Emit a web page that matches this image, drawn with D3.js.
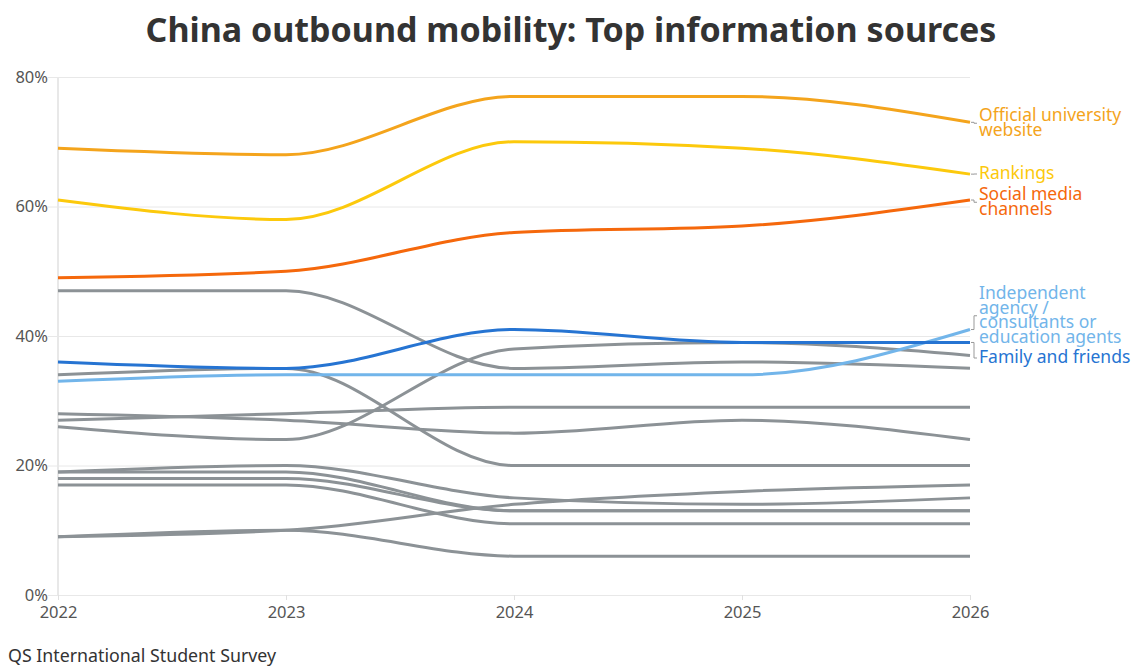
<!DOCTYPE html>
<html>
<head>
<meta charset="utf-8">
<script src="https://cdn.jsdelivr.net/npm/d3@7"></script>
<style>
  body { margin: 0; background: #fff; font-family: "Noto Sans", sans-serif; }
  svg text { font-family: "Noto Sans", sans-serif; }
</style>
</head>
<body>
<svg id="chart" width="1141" height="670"></svg>
<script>
// Survey years
const years = [2022, 2023, 2024, 2025, 2026];
const yTicks = [0, 20, 40, 60, 80];

// Highlighted sources (% of respondents)
const officialWebsite = [69, 68, 77, 77, 73];
const rankings = [61, 58, 70, 69, 65];
const socialMedia = [49, 50, 56, 57, 61];
const familyFriends = [36, 35, 41, 39, 39];
const independentAgency = [33, 34, 34, 34, 41];

// Other sources, drawn in grey
const otherSources = [
  [47, 47, 35, 36, 35],
  [26, 24, 38, 39, 37],
  [34, 35, 20, 20, 20],
  [27, 28, 29, 29, 29],
  [28, 27, 25, 27, 24],
  [19, 20, 15, 14, 15],
  [9, 10, 14, 16, 17],
  [19, 19, 13, 13, 13],
  [18, 18, 13, 13, 13],
  [17, 17, 11, 11, 11],
  [9, 10, 6, 6, 6]
];

const highlighted = [
  { lines: ['Official university', 'website'], values: officialWebsite, color: '#f4a41c', labelY: 116 },
  { lines: ['Rankings'], values: rankings, color: '#fcc90c', labelY: 174 },
  { lines: ['Social media', 'channels'], values: socialMedia, color: '#f5680c', labelY: 195 },
  { lines: ['Independent', 'agency /', 'consultants or', 'education agents'], values: independentAgency, color: '#72b5ea', labelY: 294 },
  { lines: ['Family and friends'], values: familyFriends, color: '#2674d2', labelY: 358 }
];

const svg = d3.select('#chart');

// Scales
const x = d3.scaleLinear().domain([2022, 2026]).range([58, 970]);
const y = d3.scaleLinear().domain([0, 80]).range([595, 77]);

const line = d3.line()
  .x((d, i) => x(years[i]))
  .y(d => y(d))
  .curve(d3.curveMonotoneX);

// Title
svg.append('text')
  .attr('x', 571)
  .attr('y', 42)
  .attr('text-anchor', 'middle')
  .attr('font-size', 34)
  .attr('font-weight', 700)
  .attr('fill', '#333')
  .text('China outbound mobility: Top information sources');

// Y grid + labels
const yAxis = svg.append('g')
  .attr('transform', 'translate(58,0)')
  .call(d3.axisLeft(y).tickValues(yTicks).tickFormat(d => d + '%').tickSize(-912).tickPadding(12));
yAxis.select('.domain').remove();
yAxis.selectAll('line').attr('stroke', '#e8e8e8').attr('x1', -10);
yAxis.selectAll('text').attr('font-size', 16.5).attr('fill', '#555').attr('dx', 2);

// Vertical axis line
svg.append('line')
  .attr('x1', x(2022)).attr('x2', x(2022))
  .attr('y1', y(80)).attr('y2', y(0))
  .attr('stroke', '#e8e8e8').attr('stroke-width', 2);

// X axis
const xAxis = svg.append('g')
  .attr('transform', 'translate(0,595)')
  .call(d3.axisBottom(x).tickValues(years).tickFormat(d3.format('d')).tickSize(5).tickPadding(6));
xAxis.select('.domain').remove();
xAxis.selectAll('line').attr('stroke', '#e0e0e0');
xAxis.selectAll('text').attr('font-size', 16.5).attr('fill', '#555');

// Grey lines
svg.append('g')
  .selectAll('path')
  .data(otherSources)
  .enter()
  .append('path')
  .attr('d', line)
  .attr('fill', 'none')
  .attr('stroke', '#8c9296')
  .attr('stroke-width', 3);

// Highlighted lines
svg.append('g')
  .selectAll('path')
  .data(highlighted)
  .enter()
  .append('path')
  .attr('d', d => line(d.values))
  .attr('fill', 'none')
  .attr('stroke', d => d.color)
  .attr('stroke-width', 3);

// Labels with connectors
const lineHeight = 14.5;
highlighted.forEach(function (d) {
  const endY = y(d.values[d.values.length - 1]);
  const midY = d.labelY + (d.lines.length - 1) * lineHeight / 2;
  svg.append('path')
    .attr('d', 'M' + (x(2026) + 1) + ',' + endY + 'H' + (x(2026) + 4) + 'V' + midY + 'H' + (x(2026) + 7))
    .attr('fill', 'none')
    .attr('stroke', '#999')
    .attr('stroke-width', 1);
  const t = svg.append('text')
    .attr('x', 979)
    .attr('y', d.labelY)
    .attr('font-size', 17.5)
    .attr('fill', d.color)
    .attr('dominant-baseline', 'middle');
  d.lines.forEach(function (l, i) {
    t.append('tspan').attr('x', 979).attr('dy', i === 0 ? 0 : lineHeight).text(l);
  });
});

// Source
svg.append('text')
  .attr('x', 8)
  .attr('y', 662)
  .attr('font-size', 17.8)
  .attr('fill', '#333')
  .text('QS International Student Survey');
</script>
</body>
</html>
